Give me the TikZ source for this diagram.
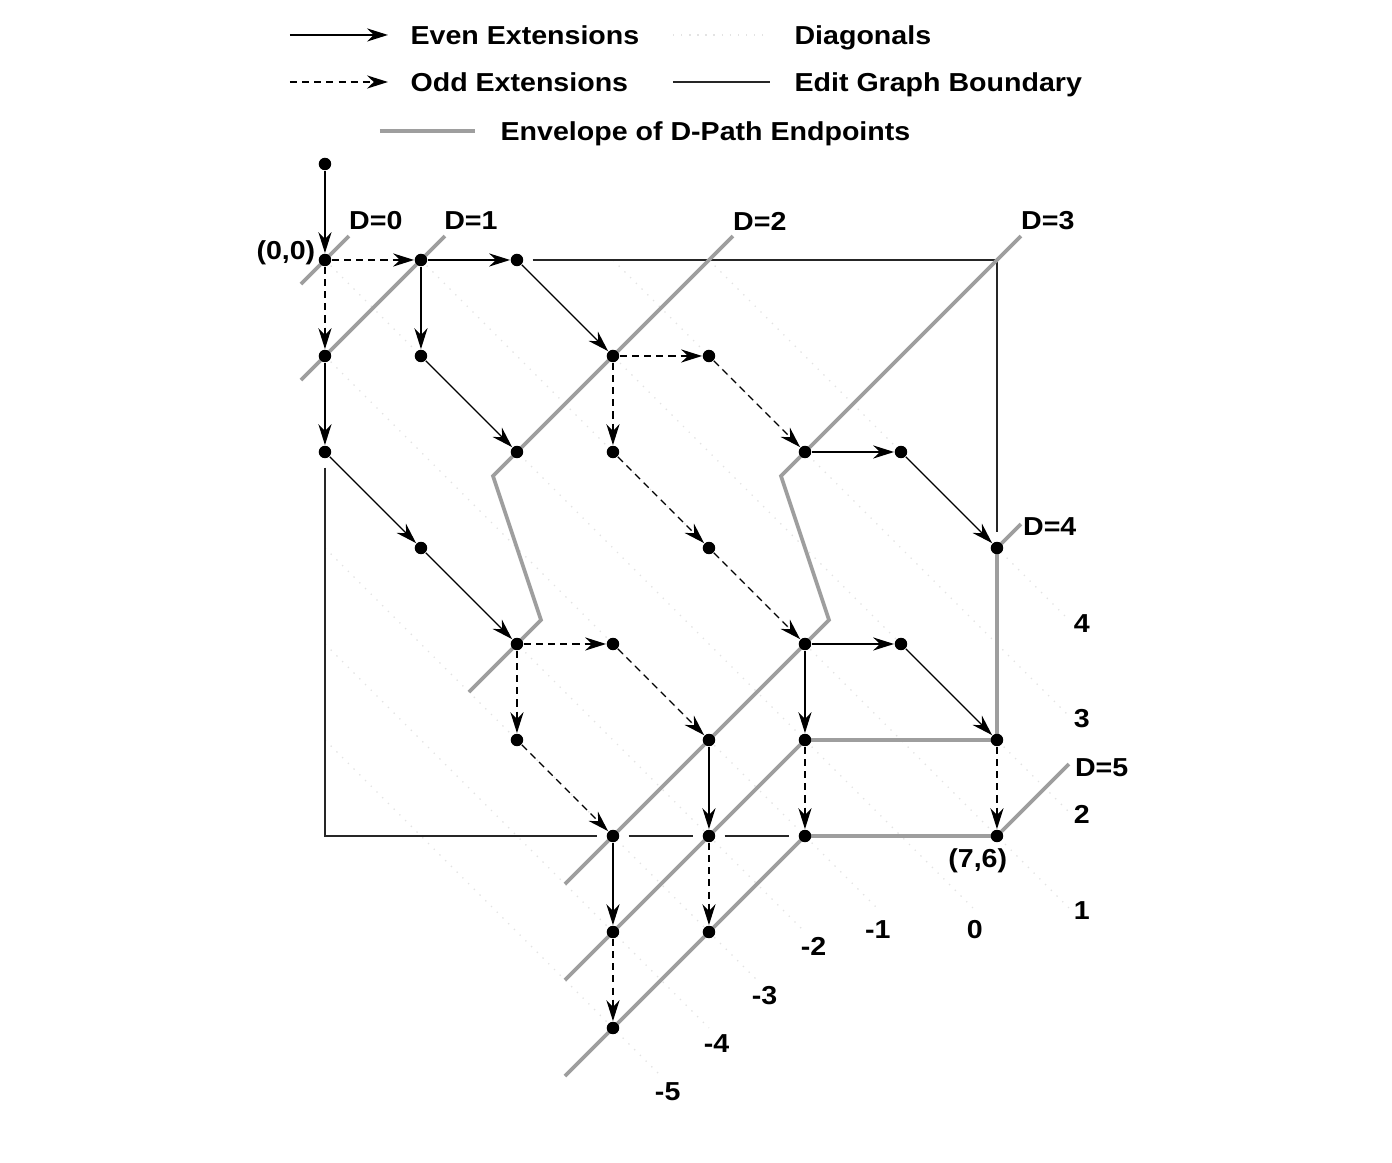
\documentclass[tikz,border=0pt]{standalone}
\usepackage{fontspec}
\setmainfont{Liberation Sans}[FakeStretch=1.1]
\usetikzlibrary{arrows.meta,backgrounds}

\begin{document}
\begin{tikzpicture}[
    font=\bfseries\fontsize{7.7}{9}\selectfont,
    dot/.style={circle,fill,inner sep=0pt,minimum size=0.13cm},
    even/.style={-{Stealth[length=6.2pt,width=3.9pt]}},
    odd/.style={even,dash pattern=on 2.1pt off 1.5pt},
    bound/.style={black!85,shorten <=0.9mm,shorten >=0.9mm},
    env/.style={black!38,line width=1.1pt},
    diag/.style={black!11,dotted},
    txt/.style={inner sep=0pt}]
    \useasboundingbox (-3.385,2.708) rectangle (11.115,-9.396);
    % legend
    \draw[even] (-0.365,2.344) -- (0.656,2.344);
    \node[txt,anchor=base west] (leven) at (0.885,2.247) {Even Extensions};
    \draw[odd] (-0.365,1.854) -- (0.656,1.854);
    \node[txt,anchor=base west] (lodd) at (0.885,1.758) {Odd Extensions};
    \draw[diag] (3.625,2.344) -- (4.635,2.344);
    \node[txt,anchor=base west] (ldiag) at (4.885,2.247) {Diagonals};
    \draw[black!85] (3.625,1.854) -- (4.635,1.854);
    \node[txt,anchor=base west] (lbound) at (4.885,1.758) {Edit Graph Boundary};
    \draw[env] (0.573,1.344) -- (1.5625,1.344);
    \node[txt,anchor=base west] (lenv) at (1.823,1.248) {Envelope of D-Path Endpoints};
    % point
    \node[dot] (top) at (0,1) {};
    \foreach \i/\j in {0/0,1/0,2/0,0/1,1/1,3/1,4/1,0/2,2/2,3/2,5/2,6/2,1/3,4/3,7/3,
        2/4,3/4,5/4,6/4,2/5,4/5,5/5,7/5,3/6,4/6,5/6,7/6,3/7,4/7,3/8}
        \node[dot] (p\i\j) at (\i,-\j) {};
    % node
    \node[txt,anchor=east] (o) at (-0.094,0.073) {(0,0)};
    \node[txt] (e) at (6.80,-6.26) {(7,6)};
    \begin{scope}[on background layer]
        % diagonals
        \foreach \k/\sx/\sy/\ex/\ey/\lx/\ly in {4/4/0/7.75/-3.75/7.885/-3.79,
            3/3/0/7.75/-4.75/7.885/-4.78, 2/2/0/7.75/-5.75/7.885/-5.78,
            1/1/0/7.75/-6.75/7.885/-6.78, 0/0/0/6.75/-6.75/6.77/-6.97,
            -1/0/-1/5.75/-6.75/5.76/-6.97, -2/0/-2/5/-7/5.09/-7.15,
            -3/0/-3/4.5/-7.5/4.58/-7.66, -4/0/-4/4/-8/4.08/-8.16,
            -5/0/-5/3.5/-8.5/3.57/-8.66}{
            \draw[diag] (\sx,\sy) -- (\ex,\ey);
            \node[txt] (k\k) at (\lx,\ly) {\k};
        }
        % boundary
        \draw[bound] (p20) -- (7,0) -- (p73);
        \draw[bound] (p02) -- (0,-6) -- (p36);
        \draw[bound] (p36) -- (p46);
        \draw[bound] (p46) -- (p56);
        % envelope
        \draw[env] (-0.25,-0.25) -- (0.25,0.25);
        \draw[env] (-0.25,-1.25) -- (1.25,0.25);
        \draw[env] (4.25,0.25) -- (1.75,-2.25) -- (2.25,-3.75) -- (1.5,-4.5);
        \draw[env] (7.25,0.25) -- (4.75,-2.25) -- (5.25,-3.75) -- (2.5,-6.5);
        \draw[env] (7.25,-2.75) -- (7,-3) -- (7,-5) -- (5,-5) -- (2.5,-7.5);
        \draw[env] (7.75,-5.25) -- (7,-6) -- (5,-6) -- (2.5,-8.5);
    \end{scope}
    \node (d0) at (0.53,0.406) {D=0};
    \node (d1) at (1.52,0.406) {D=1};
    \node (d2) at (4.53,0.406) {D=2};
    \node (d3) at (7.53,0.406) {D=3};
    \node (d4) at (7.55,-2.78) {D=4};
    \node (d5) at (8.09,-5.29) {D=5};
    % line
    \foreach \a/\b in {top/p00,p10/p20,p10/p11,p01/p02,p20/p31,p11/p22,p02/p13,p13/p24,
        p52/p62,p62/p73,p54/p64,p54/p55,p64/p75,p45/p46,p36/p37}
        \draw[even] (\a) -- (\b);
    \foreach \a/\b in {p00/p10,p00/p01,p31/p41,p31/p32,p41/p52,p32/p43,p43/p54,p24/p34,
        p24/p25,p34/p45,p25/p36,p55/p56,p75/p76,p37/p38,p46/p47}
        \draw[odd] (\a) -- (\b);
\end{tikzpicture}
\end{document}
